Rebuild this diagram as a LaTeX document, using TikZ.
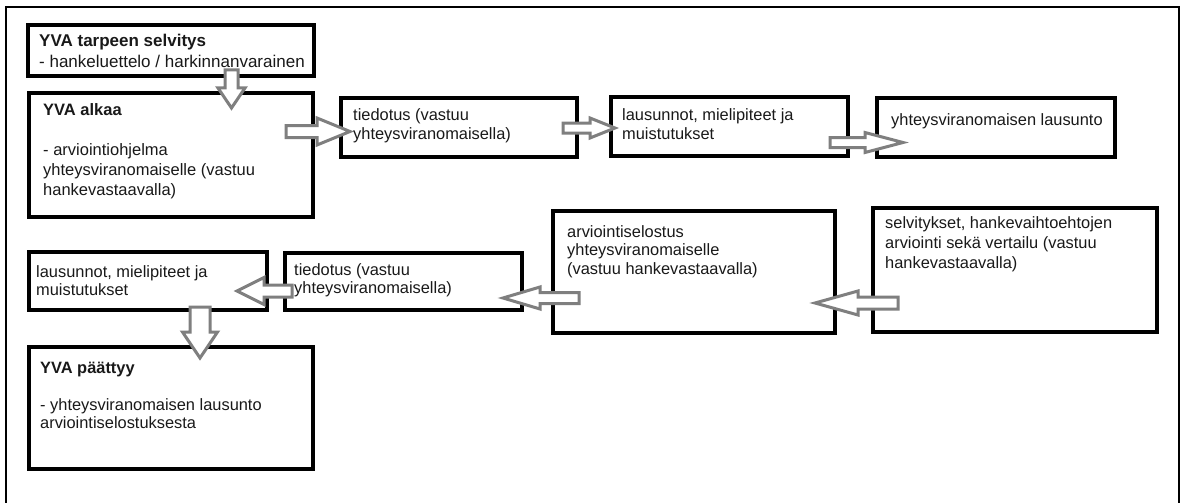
\documentclass[tikz,border=0pt]{standalone}
\usepackage{fontspec}
\setmainfont{Liberation Sans}
\usetikzlibrary{calc}

% multi-line box text (font size, line spacing, lines); baseline of the node = first line
\newcommand\boxlines[3]{\fontsize{#1}{#2}\selectfont\begin{tabular}[t]{@{}l@{}}#3\end{tabular}}

% outlined block arrows between named points (tail, tip, shaft half-width, head half-width, head length)
\newcommand\rarrow[5]{\draw[blockarrow] ($(#1)+(0,-#3)$) -- ($(#2)+(-#5,-#3)$) -- ($(#2)+(-#5,-#4)$) -- (#2) -- ($(#2)+(-#5,#4)$) -- ($(#2)+(-#5,#3)$) -- ($(#1)+(0,#3)$) -- cycle;}
\newcommand\larrow[5]{\draw[blockarrow] ($(#1)+(0,-#3)$) -- ($(#2)+(#5,-#3)$) -- ($(#2)+(#5,-#4)$) -- (#2) -- ($(#2)+(#5,#4)$) -- ($(#2)+(#5,#3)$) -- ($(#1)+(0,#3)$) -- cycle;}
\newcommand\darrow[5]{\draw[blockarrow] ($(#1)+(-#3,0)$) -- ($(#2)+(-#3,-#5)$) -- ($(#2)+(-#4,-#5)$) -- (#2) -- ($(#2)+(#4,-#5)$) -- ($(#2)+(#3,-#5)$) -- ($(#1)+(#3,0)$) -- cycle;}

% rectangle given by its corners (x1,y1) and (x2,y2)
\newcommand\mkbox[5]{\node[stepbox, minimum width={#4-#2}, minimum height={#5-#3}] (#1) at ({(#2+#4)/2},{(#3+#5)/2}) {};}

\begin{document}
\begin{tikzpicture}[x=1pt, y=-1pt,
  stepbox/.style={draw=black, line width=3.2pt, fill=white, inner sep=0pt},
  txt/.style={anchor=base west, inner sep=0pt, text=black!90},
  blockarrow/.style={draw=arrowgray, line width=3pt, fill=white, line join=miter},
  frame/.style={draw=black, line width=1.6pt}]
\definecolor{arrowgray}{HTML}{7F7F7F}
\useasboundingbox (0,0) rectangle (1181,503);

% outer frame, open at the bottom
\draw[frame] (6,503) -- (6,7) -- (1179,7) -- (1179,503);

% boxes
\mkbox{b1}{28}{25}{314}{76}
\mkbox{b2}{29}{93}{313}{217}
\mkbox{b3}{341}{98}{577}{157}
\mkbox{b4}{611}{97}{848}{156}
\mkbox{b5}{877}{98}{1115}{157}
\mkbox{b7}{873}{208}{1157}{332}
\mkbox{b6}{553}{211}{835}{333}
\mkbox{b10}{285}{253}{522}{310}
\mkbox{b8}{29}{252}{267}{310}
\mkbox{b9}{29}{347}{313}{469}

% arrow end points
\coordinate (a1t) at (231.5,70);  \coordinate (a1h) at (231.5,108);
\coordinate (a2t) at (286,131.5); \coordinate (a2h) at (350,131.5);
\coordinate (a3t) at (563,128);   \coordinate (a3h) at (615,128);
\coordinate (a4t) at (830,142.5); \coordinate (a4h) at (903,142.5);
\coordinate (a5t) at (898,303);   \coordinate (a5h) at (815,303);
\coordinate (a6t) at (579,298);   \coordinate (a6h) at (503,298);
\coordinate (a7t) at (292,291);   \coordinate (a7h) at (237,291);
\coordinate (a8t) at (200,307);   \coordinate (a8h) at (200,358);

% flow arrows (over the box borders, under the texts)
\darrow{a1t}{a1h}{6.5}{13.5}{20}
\rarrow{a2t}{a2h}{6}{13.5}{33}
\rarrow{a3t}{a3h}{5}{10}{25}
\rarrow{a4t}{a4h}{5}{10}{38}
\larrow{a5t}{a5h}{6}{12}{43}
\larrow{a6t}{a6h}{5.5}{11}{37}
\larrow{a7t}{a7h}{6}{13.5}{27}
\darrow{a8t}{a8h}{10}{17.5}{26}

% box texts
\node[txt] (t1) at (39,47) {\boxlines{17}{21}{\textbf{YVA tarpeen selvitys}\\- hankeluettelo / harkinnanvarainen}};
\node[txt] (t2) at (43,115) {\boxlines{16.5}{20}{\textbf{YVA alkaa}\\[20pt]- arviointiohjelma\\yhteysviranomaiselle (vastuu\\hankevastaavalla)}};
\node[txt] (t3) at (353,120) {\boxlines{16.4}{20}{tiedotus (vastuu\\yhteysviranomaisella)}};
\node[txt] (t4) at (622,120) {\boxlines{16.4}{20}{lausunnot, mielipiteet ja\\muistutukset}};
\node[txt] (t5) at (891,125) {\boxlines{16.4}{20}{yhteysviranomaisen lausunto}};
\node[txt] (t7) at (885,228) {\boxlines{16.4}{20}{selvitykset, hankevaihtoehtojen\\arviointi sekä vertailu (vastuu\\hankevastaavalla)}};
\node[txt] (t6) at (567,237) {\boxlines{16.4}{18.5}{arviointiselostus\\yhteysviranomaiselle\\(vastuu hankevastaavalla)}};
\node[txt] (t10) at (294,275) {\boxlines{16.4}{18.5}{tiedotus (vastuu\\yhteysviranomaisella)}};
\node[txt] (t8) at (36,277) {\boxlines{16.4}{18.5}{lausunnot, mielipiteet ja\\muistutukset}};
\node[txt] (t9) at (40,373) {\boxlines{16.4}{18.5}{\textbf{YVA päättyy}\\[18.5pt]- yhteysviranomaisen lausunto\\arviointiselostuksesta}};
\end{tikzpicture}
\end{document}
